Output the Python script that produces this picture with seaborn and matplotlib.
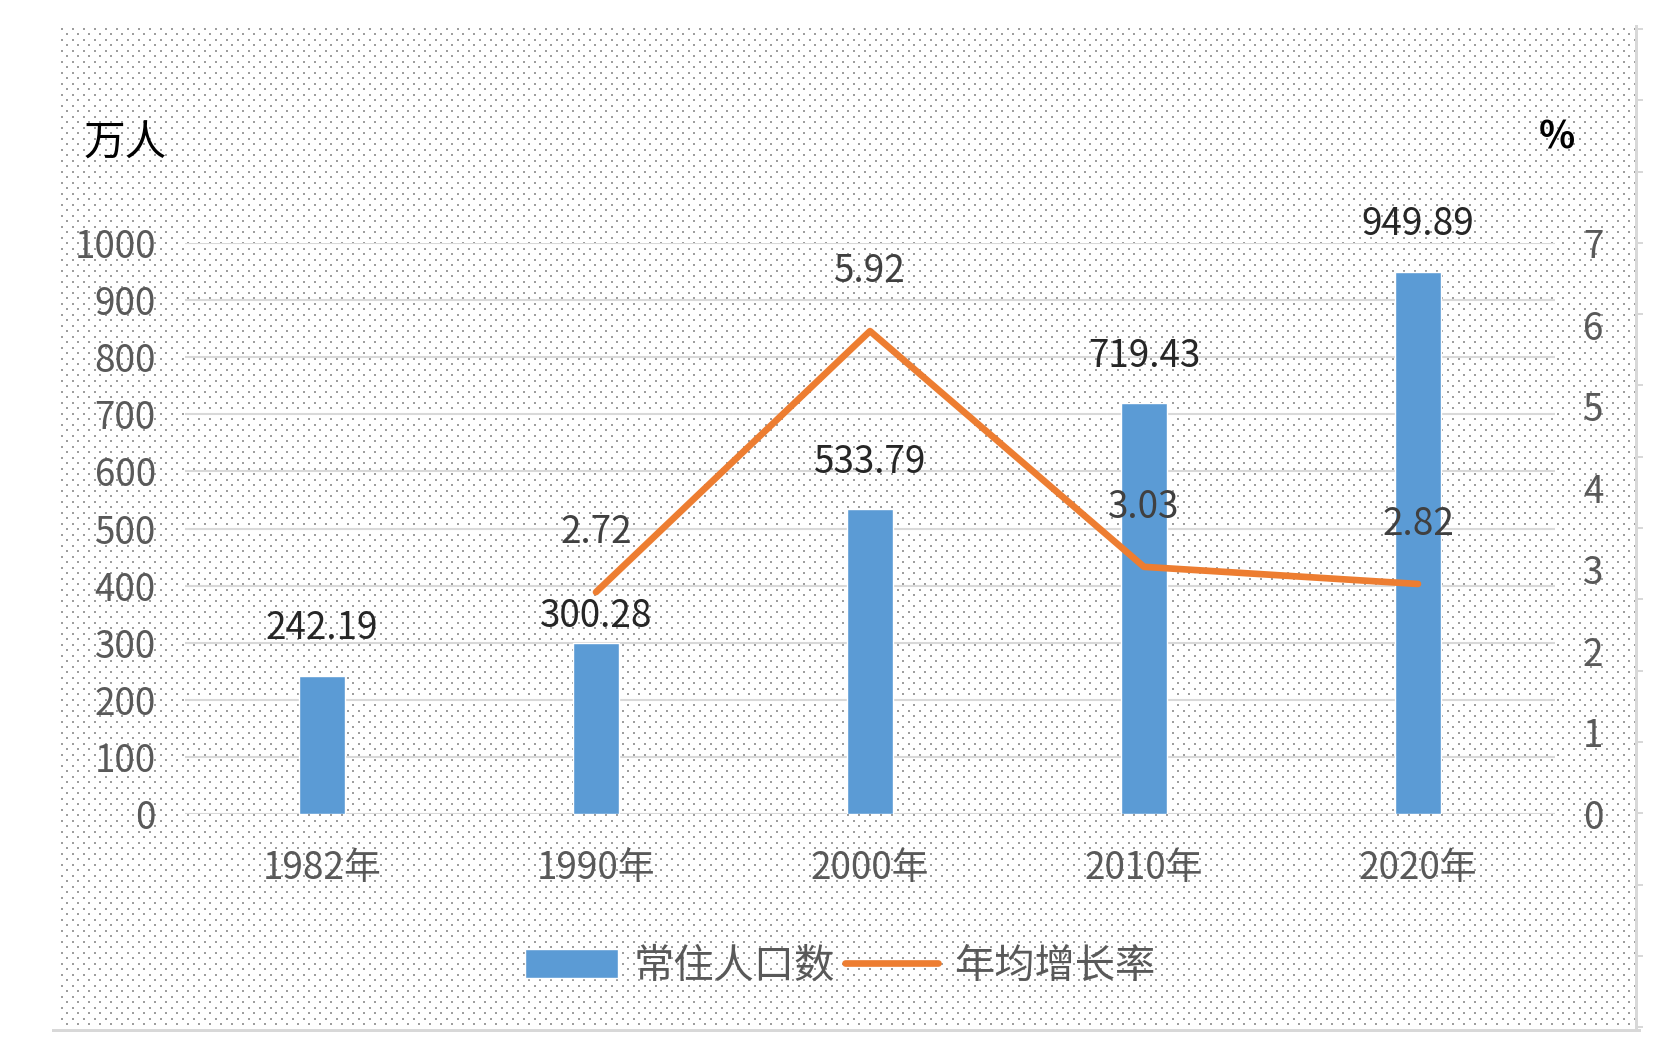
import numpy as np
import pandas as pd
import matplotlib
matplotlib.use("Agg")
import matplotlib.pyplot as plt
import seaborn as sns

# ---- data ----
years = ["1982年", "1990年", "2000年", "2010年", "2020年"]
population = [242.19, 300.28, 533.79, 719.43, 949.89]
rate_years = ["1990年", "2000年", "2010年", "2020年"]
growth_rate = [2.72, 5.92, 3.03, 2.82]
left_ticks = [0, 100, 200, 300, 400, 500, 600, 700, 800, 900, 1000]
right_ticks = [0, 1, 2, 3, 4, 5, 6, 7]
bar_name = "常住人口数"
line_name = "年均增长率"

sns.set_style("white")
plt.rcParams['font.family'] = ['Noto Sans CJK SC', 'DejaVu Sans']

W, H = 1672, 1058
fig = plt.figure(figsize=(W / 100, H / 100), dpi=100)

# ---- dotted background panel ----
img = np.ones((H, W, 3))
yy, xx = np.mgrid[0:H, 0:W]
dots = (((xx % 11) < 2) & ((yy % 11) < 2)) | ((((xx + 5) % 11) < 2) & (((yy + 5) % 11) < 2))
inside = (xx >= 57) & (xx < 1635) & (yy >= 27) & (yy < 1029)
img[dots & inside] = 0.62
border = 0.85
img[1029:1032, 52:1641] = border
img[25:1032, 1635:1638] = border
for k in range(15):
    ty = int(round(28 + k * 71.3))
    img[ty:ty + 2, 1635:1643] = border
fig.figimage(img, xo=0, yo=0, origin='upper', zorder=-1)

ax = fig.add_axes([185 / W, 1 - 814 / H, (1555 - 185) / W, (814 - 243) / H])
ax.set_facecolor('none')

df_bar = pd.DataFrame({"year": years, "pop": population})
sns.barplot(data=df_bar, x="year", y="pop", color="#5B9BD5", width=0.165,
            saturation=1, ax=ax, zorder=2)
ax.set_xlim(-0.5, 4.5)
ax.set_ylim(0, 1000)
ax.set_yticks(left_ticks)
ax.set_xlabel("")
ax.set_ylabel("")
ax.set_axisbelow(True)
ax.yaxis.grid(True, color="#d9d9d9", linewidth=1.5)
ax.xaxis.grid(False)
for s in ax.spines.values():
    s.set_visible(False)
ax.tick_params(axis='y', length=0, pad=21, labelsize=26.5, labelcolor="#595959")
ax.tick_params(axis='x', length=0, pad=25, labelsize=26.5, labelcolor="#595959")

ax2 = ax.twinx()
df_line = pd.DataFrame({"x": [years.index(y) for y in rate_years], "rate": growth_rate})
sns.lineplot(data=df_line, x="x", y="rate", color="#ED7D31", linewidth=4.8, ax=ax2,
             zorder=3)
ax2.set_ylim(0, 7)
ax2.set_yticks(right_ticks)
ax2.set_xlim(-0.5, 4.5)
ax2.set_xlabel("")
ax2.set_ylabel("")
ax2.grid(False)
for s in ax2.spines.values():
    s.set_visible(False)
ax2.tick_params(axis='y', length=0, pad=20, labelsize=26.5, labelcolor="#595959")

# ---- data labels ----
bar_offsets = [33.8, 19.0, 33.8, 33.8, 33.8]
for i, (v, off) in enumerate(zip(population, bar_offsets)):
    ax.annotate(f"{v:.2f}", xy=(i, v), xytext=(0, off), textcoords='offset points',
                ha='center', va='center', fontsize=26.5, color="#262626")
for y, v in zip(rate_years, growth_rate):
    ax2.annotate(f"{v:.2f}", xy=(years.index(y), v), xytext=(0, 43),
                 textcoords='offset points', ha='center', va='center',
                 fontsize=26.5, color="#404040")

# ---- units ----
fig.text(125 / W, 1 - 144 / H, "万人", ha='center', va='center', fontsize=30, color="black")
fig.text(1557 / W, 1 - 137 / H, "%", ha='center', va='center', fontsize=27,
         color="black", fontweight='bold')

# ---- legend ----
handles = [ax.patches[0], ax2.lines[0]]
ax.legend(handles=handles, labels=[bar_name, line_name], loc='center',
          bbox_to_anchor=(840 / W, 1 - 966 / H), bbox_transform=fig.transFigure,
          ncol=2, frameon=False, fontsize=29, labelcolor="#595959",
          handlelength=2.3, handleheight=0.7, handletextpad=0.4, columnspacing=0.25)

fig.savefig("out.png", dpi=100)
